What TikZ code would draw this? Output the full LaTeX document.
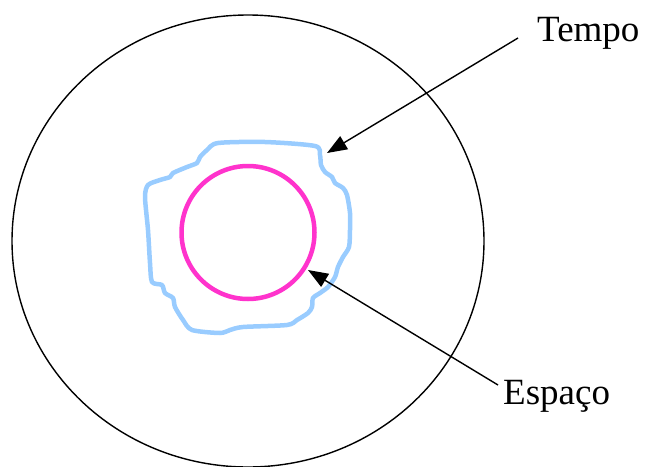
\documentclass[tikz,border=0pt]{standalone}
\usepackage{fontspec}
\setmainfont{Liberation Serif}
\usetikzlibrary{arrows.meta}
\definecolor{blob}{HTML}{99CCFF}
\definecolor{pinkc}{HTML}{FF33CC}
\tikzset{
  lbl/.style={anchor=base west, inner sep=0pt, font=\fontsize{37}{40}\selectfont},
  pointer/.style={line width=1.4pt, -{Triangle[length=20pt,width=15pt]}},
}
\begin{document}
\begin{tikzpicture}[x=1pt,y=-1pt]
\useasboundingbox (0,0) rectangle (645,466);
\draw[line width=1.4pt] (248,241) ellipse [x radius=236, y radius=226];
\draw[blob, line width=4.5pt, line join=round] plot[smooth cycle, tension=0.45] coordinates {
 (218,143) (265,142) (315,146) (320,155) (321,165) (325,172) (332,177) (335,183)
 (343,188) (347,195) (350,213) (350,230) (349,247) (343,257) (338,267) (335,277)
 (328,287) (320,293) (313,298) (312,307) (308,313) (297,320) (287,325) (243,327)
 (230,330) (220,333) (192,330) (183,320) (175,307) (173,298) (165,293) (162,285)
 (152,282) (150,263) (148,230) (145,197) (148,185) (160,180) (170,177) (173,173)
 (187,167) (197,163) (200,157) (207,150)};
\draw[pinkc, line width=4.5pt] (248,232.5) circle [radius=66.5];
\node[lbl] (tempo) at (537,41) {Tempo};
\node[lbl] (espaco) at (503,404) {Espaço};
\coordinate (t0) at (518,38);
\coordinate (t1) at (327,153);
\coordinate (e0) at (498,385);
\coordinate (e1) at (308,270);
\draw[pointer] (t0) -- (t1);
\draw[pointer] (e0) -- (e1);
\end{tikzpicture}
\end{document}
